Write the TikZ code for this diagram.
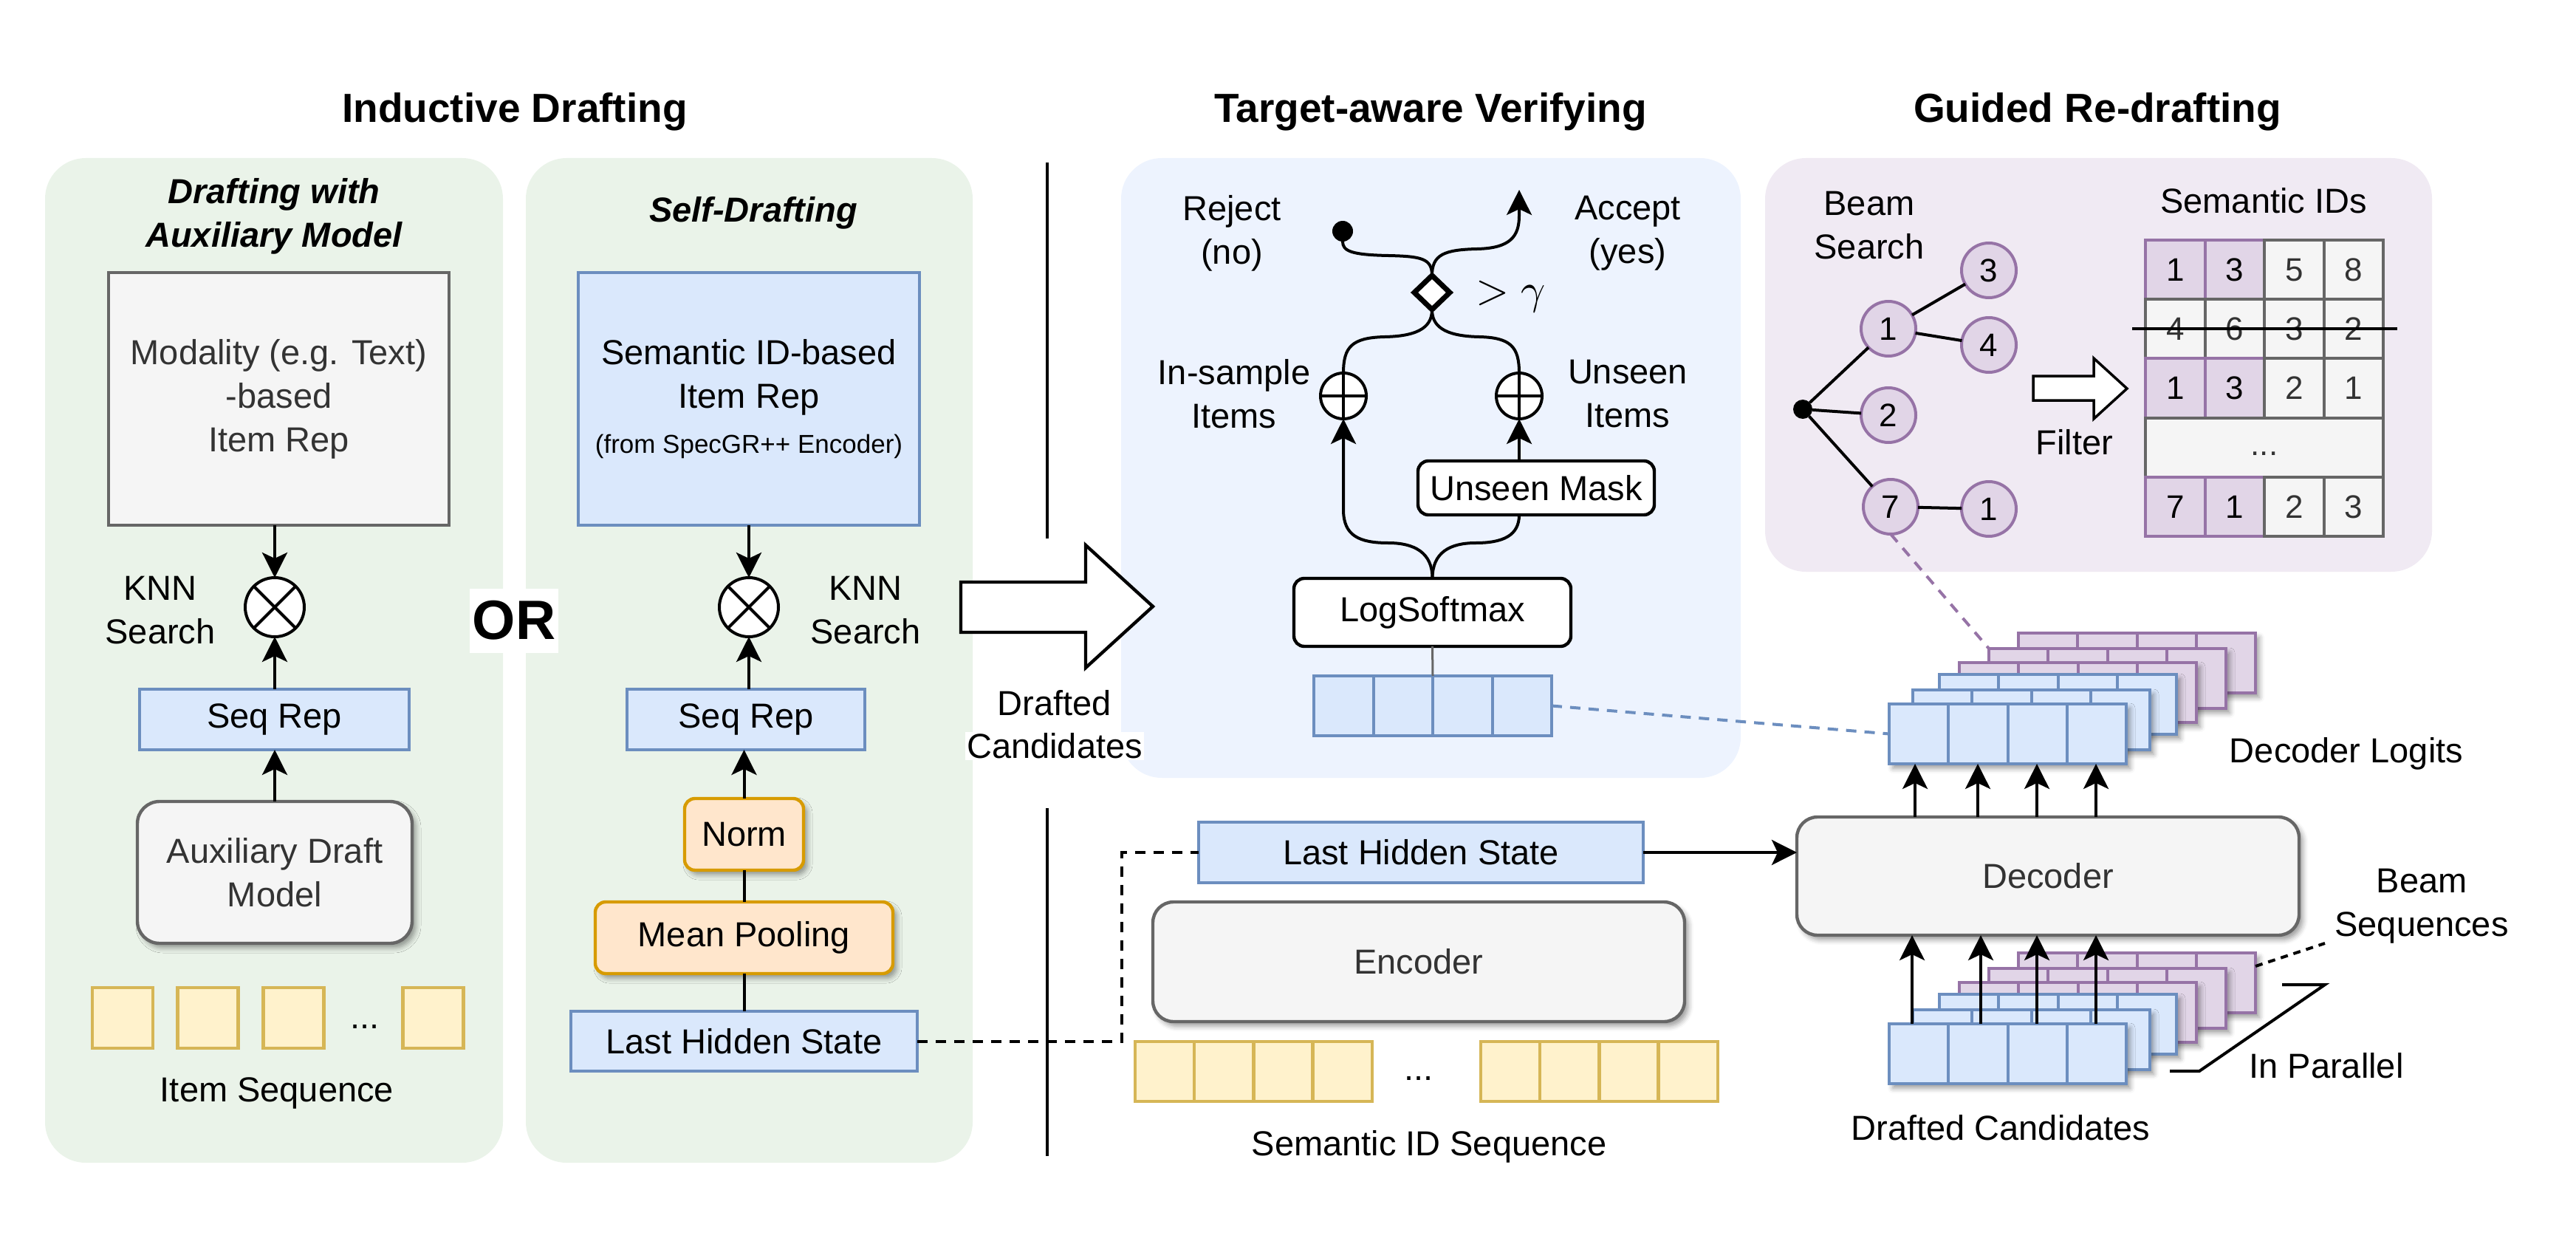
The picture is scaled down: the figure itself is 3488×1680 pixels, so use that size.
\documentclass[tikz,border=0pt]{standalone}
\usepackage{fontspec}
\setmainfont{Liberation Sans}
\usetikzlibrary{arrows.meta,shapes.geometric,shadows.blur,calc}
\definecolor{grnbg}{HTML}{EAF3E9}
\definecolor{blubg}{HTML}{EDF3FE}
\definecolor{purbg}{HTML}{F0EAF3}
\definecolor{bluefill}{HTML}{DAE8FC}
\definecolor{bluedraw}{HTML}{6C8EBF}
\definecolor{grayfill}{HTML}{F5F5F5}
\definecolor{graydraw}{HTML}{666666}
\definecolor{graytext}{HTML}{333333}
\definecolor{yelfill}{HTML}{FFF2CC}
\definecolor{yeldraw}{HTML}{D6B656}
\definecolor{orgfill}{HTML}{FFE6CC}
\definecolor{orgdraw}{HTML}{D79B00}
\definecolor{purfill}{HTML}{E1D5E7}
\definecolor{purdraw}{HTML}{9673A6}
\newcommand{\fN}{\fontsize{47pt}{59pt}\selectfont}
\newcommand{\fT}{\fontsize{55pt}{66pt}\selectfont\bfseries}
\newcommand{\fS}{\fontsize{35pt}{42pt}\selectfont}
\newcommand{\fD}{\fontsize{44pt}{52pt}\selectfont}
\newcommand{\stk}[5]{%
  \node[draw=#5, fill=#4, line width=4pt, minimum width=321pt, minimum height=81pt, anchor=north west, sh] (#1) at (#2,#3) {};
  \foreach \k in {1,2,3} \draw[#5, line width=4pt] ($(#1.north west)+(80.25*\k,0)$) -- ($(#1.south west)+(80.25*\k,0)$);
}
\newcommand{\tcell}[5]{\node[#4, font=\fD, minimum width=80.5pt, minimum height=80.2pt] (#1) at ({2945.25+80.5*#2},{365.1+80.2*#3}) {#5};}
\begin{document}
\begin{tikzpicture}[x=1pt,y=-1pt,
  every node/.style={inner sep=0pt, outer sep=0pt, font=\fN, align=center},
  ln/.style={line width=4pt},
  arr/.style={line width=4pt, -{Stealth[length=34pt,width=34pt,inset=8pt]}},
  dsh/.style={line width=4pt, dash pattern=on 14pt off 11pt},
  bbox/.style={draw=bluedraw, fill=bluefill, line width=4.4pt},
  gbox/.style={draw=graydraw, fill=grayfill, line width=4.4pt, text=graytext},
  obox/.style={draw=orgdraw, fill=orgfill, line width=4.4pt, rounded corners=14pt},
  ybox/.style={draw=yeldraw, fill=yelfill, line width=4.4pt},
  pcell/.style={draw=purdraw, fill=purfill, line width=4pt},
  gcell/.style={draw=graydraw, fill=grayfill, line width=4pt, text=graytext},
  wbox/.style={draw=black, fill=white, line width=4.4pt, rounded corners=14pt},
  sh/.style={blur shadow={shadow xshift=5pt, shadow yshift=-6pt, shadow blur radius=7pt, shadow opacity=40}},
  wh/.style 2 args={minimum width=#1pt, minimum height=#2pt},
  otimes/.style={circle, draw, fill=white, line width=4pt, minimum size=80pt,
    path picture={\draw[line width=4pt] (path picture bounding box.north west) -- (path picture bounding box.south east) (path picture bounding box.north east) -- (path picture bounding box.south west);}},
  oplus/.style={circle, draw, fill=white, line width=4pt, minimum size=62pt,
    path picture={\draw[line width=4pt] (path picture bounding box.north) -- (path picture bounding box.south) (path picture bounding box.east) -- (path picture bounding box.west);}},
  tnode/.style={circle, draw=purdraw, fill=purfill, line width=4pt, minimum size=74pt, font=\fD},
]
\useasboundingbox (0,0) rectangle (3488,1680);

% panels
\fill[grnbg, rounded corners=55pt] (61,214) rectangle (681,1574);
\fill[grnbg, rounded corners=55pt] (712,214) rectangle (1317,1574);
\fill[blubg, rounded corners=55pt] (1518,214) rectangle (2357,1053);
\fill[purbg, rounded corners=55pt] (2390,214) rectangle (3293,774);

% titles
\node[font=\fT] (t1) at (697,151) {Inductive Drafting};
\node[font=\fT] (t2) at (1937,151) {Target-aware Verifying};
\node[font=\fT] (t3) at (2840,151) {Guided Re-drafting};

% separators
\coordinate (s1a) at (1418,220); \coordinate (s1b) at (1418,729);
\coordinate (s2a) at (1418,1094); \coordinate (s2b) at (1418,1565);
\draw[ln] (s1a) -- (s1b);
\draw[ln] (s2a) -- (s2b);

% ---------- panel 1
\node[font=\fN\bfseries\itshape] (h1) at (371,293) {Drafting with\\Auxiliary Model};
\node[gbox, wh={461}{342}] (modal) at (377.5,540) {Modality (e.g. Text)\\-based\\Item Rep};
\node[otimes] (ox1) at (372,822) {};
\node (knn1) at (217,826) {KNN\\Search};
\node[bbox, wh={365}{82}] (seq1) at (371.5,974) {Seq Rep};
\node[gbox, rounded corners=30pt, wh={372}{192}, sh] (aux) at (372,1181) {Auxiliary Draft\\Model};
\foreach \i/\x in {1/166,2/281.5,3/397.5,4/586.5} \node[ybox, wh={82}{82}] (it\i) at (\x,1378) {};
\node (itdots) at (494,1390) {...};
\node (itseq) at (375,1480) {Item Sequence};
\draw[arr] (modal.south -| ox1) -- (ox1.north);
\draw[arr] (seq1.north -| ox1) -- (ox1.south);
\draw[arr] (aux.north) -- (seq1.south -| aux.north);

% ---------- panel 2
\node[font=\fN\bfseries\itshape] (h2) at (1020,288) {Self-Drafting};
\node[bbox, wh={462}{342}] (semrep) at (1014,540) {Semantic ID-based\\Item Rep\\[2pt]{\fS (from SpecGR++ Encoder)}};
\node[otimes] (ox2) at (1014,822) {};
\node (knn2) at (1172,826) {KNN\\Search};
\node[bbox, wh={322}{82}] (seq2) at (1010,974) {Seq Rep};
\node[obox, wh={161}{97}, sh] (norm) at (1007.5,1129.5) {Norm};
\node[obox, wh={403}{97}, sh] (pool) at (1007.5,1269.5) {Mean Pooling};
\node[bbox, wh={469}{81}] (lhs1) at (1007.5,1409.5) {Last Hidden State};
\draw[arr] (semrep.south -| ox2) -- (ox2.north);
\draw[arr] (seq2.north -| ox2) -- (ox2.south);
\draw[arr] (norm.north) -- (seq2.south -| norm.north);
\draw[ln] (pool.north) -- (norm.south);
\draw[ln] (lhs1.north) -- (pool.south);

% OR
\node[fill=white, font=\fontsize{75pt}{80pt}\selectfont\bfseries, wh={120}{87}] (or) at (696,840) {OR};

% big arrow
\draw[line width=4.4pt, fill=white, line join=miter] (1301,788) -- (1470,788) -- (1470,738) -- (1561,821) -- (1470,904) -- (1470,856) -- (1301,856) -- cycle;
\node[fill=white, inner sep=2pt] (dc1) at (1428,952) {Drafted};
\node[fill=white, inner sep=2pt] (dc2) at (1428,1010) {Candidates};

% ---------- verifying
\node[wbox, wh={375}{92}] (lsm) at (1939.5,829) {LogSoftmax};
\node[wbox, wh={320}{73}] (mask) at (2080,660.5) {Unseen Mask};
\node[oplus] (opL) at (1819,536) {};
\node[oplus] (opR) at (2057,536) {};
\node[diamond, draw, fill=white, line width=7pt, minimum width=48pt, minimum height=46pt] (dia) at (1939,396) {};
\node[circle, fill=black, minimum size=28pt] (dot) at (1818,313) {};
\coordinate (acc) at (2057,257);
\node (rej) at (1668,316) {Reject\\(no)};
\node (accl) at (2204,316) {Accept\\(yes)};
\node (gam) at (2046,402) {\fontsize{10pt}{12pt}\selectfont\scalebox{5.8}{$>\gamma$}};
\node (ins) at (1671,533) {In-sample\\Items};
\node (uns) at (2204,533) {Unseen\\Items};
\node[bbox, wh={322}{81}] (vec) at (1940,955.5) {};
\foreach \k in {1,2,3} \draw[bluedraw, line width=4pt] ($(vec.north west)+(80.5*\k,0)$) -- ($(vec.south west)+(80.5*\k,0)$);
\draw[graydraw, line width=3pt] (lsm.south) -- (vec.north);

\draw[arr] (lsm.north) .. controls (1939.5,748) and (1915,735) .. (1880,735) .. controls (1840,735) and (1819,725) .. (1819,690) -- (opL.south);
\draw[ln] (lsm.north) .. controls (1939.5,748) and (1963,735) .. (1998,735) .. controls (2035,735) and (2057,725) .. (mask.south -| opR);
\draw[arr] (mask.north -| opR) -- (opR.south);
\draw[ln] (opL.north) .. controls (1819,470) and (1830,457) .. (1875,456) .. controls (1925,455) and (1939,440) .. (dia.south);
\draw[ln] (opR.north) .. controls (2057,470) and (2046,457) .. (2003,456) .. controls (1953,455) and (1939,440) .. (dia.south);
\draw[ln] (dia.north) .. controls (1939,350) and (1925,347) .. (1880,346) .. controls (1830,345) and (1818,340) .. (dot.south);
\draw[arr] (dia.north) .. controls (1939,345) and (1955,338) .. (2000,337) .. controls (2045,336) and (2057,320) .. (2057,292) -- (acc);

% ---------- encoder section
\node[bbox, wh={602}{82}] (lhs2) at (1924,1154) {Last Hidden State};
\node[gbox, rounded corners=28pt, wh={720}{162}, sh] (enc) at (1921,1302) {Encoder};
\foreach \i in {0,...,3} \node[ybox, wh={80.25}{81}] (sa\i) at ({1577+80.25*\i},1450.5) {};
\foreach \i in {0,...,3} \node[ybox, wh={80.25}{81}] (sb\i) at ({2045+80.25*\i},1450.5) {};
\node (sdots) at (1921,1460) {...};
\node (sidseq) at (1935,1552) {Semantic ID Sequence};
\coordinate (jog) at (1519,1300);
\draw[dsh] (lhs1.east) -- (lhs1.east -| jog) -- (lhs2.west -| jog) -- (lhs2.west);

% ---------- decoder
\node[gbox, rounded corners=28pt, wh={680}{160}, sh] (dec) at (2773,1186) {Decoder};
\draw[arr] (lhs2.east) -- (lhs2.east -| dec.west);

\stk{lgF}{2733}{857}{purfill}{purdraw}
\stk{lgE}{2693}{878}{purfill}{purdraw}
\stk{lgD}{2653}{897}{purfill}{purdraw}
\stk{lgC}{2626}{913}{bluefill}{bluedraw}
\stk{lgB}{2590}{934}{bluefill}{bluedraw}
\stk{lgA}{2558}{953}{bluefill}{bluedraw}

\stk{dcF}{2733}{1290}{purfill}{purdraw}
\stk{dcE}{2693}{1311}{purfill}{purdraw}
\stk{dcD}{2653}{1330}{purfill}{purdraw}
\stk{dcC}{2626}{1346}{bluefill}{bluedraw}
\stk{dcB}{2590}{1367}{bluefill}{bluedraw}
\stk{dcA}{2558}{1386}{bluefill}{bluedraw}

\foreach \o in {35,120,200,280} \draw[arr] ($(dec.north -| lgA.west)+(\o,0)$) -- ($(lgA.south west)+(\o,0)$);
\foreach \o in {31,124,200,280} \draw[arr] ($(dcA.north west)+(\o,0)$) -- ($(dec.south -| dcA.west)+(\o,0)$);

\draw[bluedraw, dsh] (vec.east) -- (lgA.west);

\node (declog) at (3177,1020) {Decoder Logits};
\node (beamseq) at (3279,1227) {Beam\\Sequences};
\coordinate (bsq) at (3148,1277);
\draw[line width=4pt, dash pattern=on 10pt off 8pt] ($(dcF.north east)+(0,18)$) -- (bsq);
\draw[line width=4pt] (2938,1450) -- (2978,1450) -- (3148,1333) -- (3090,1333);
\node (inpar) at (3150,1443) {In Parallel};
\node (dcl) at (2709,1527) {Drafted Candidates};

% ---------- re-drafting
\node (beam) at (2531,305) {Beam\\Search};
\node (semids) at (3065,272) {Semantic IDs};
\node[circle, fill=black, minimum size=26pt] (root) at (2441,554) {};
\node[tnode] (n1) at (2557,445) {1};
\node[tnode] (n3) at (2693,366) {3};
\node[tnode] (n4) at (2693,467) {4};
\node[tnode] (n2) at (2557,562) {2};
\node[tnode] (n7) at (2560,686) {7};
\node[tnode] (n1b) at (2693,689) {1};
\draw[ln] (root) -- (n1);
\draw[ln] (root) -- (n2);
\draw[ln] (root) -- (n7);
\draw[ln] (n1) -- (n3);
\draw[ln] (n1) -- (n4);
\draw[ln] (n7) -- (n1b);
\draw[purdraw, dsh] (n7.south) -- (lgE.north west);

\draw[line width=3.5pt, fill=white, line join=miter] (2753,509) -- (2835,509) -- (2835,485) -- (2880,526) -- (2835,567) -- (2835,542) -- (2753,542) -- cycle;
\node (filt) at (2809,599) {Filter};

\tcell{c00}{0}{0}{pcell}{1}
\tcell{c01}{1}{0}{pcell}{3}
\tcell{c02}{2}{0}{gcell}{5}
\tcell{c03}{3}{0}{gcell}{8}
\tcell{c10}{0}{1}{gcell}{4}
\tcell{c11}{1}{1}{gcell}{6}
\tcell{c12}{2}{1}{gcell}{3}
\tcell{c13}{3}{1}{gcell}{2}
\tcell{c20}{0}{2}{pcell}{1}
\tcell{c21}{1}{2}{pcell}{3}
\tcell{c22}{2}{2}{gcell}{2}
\tcell{c23}{3}{2}{gcell}{1}
\node[gcell, font=\fD, minimum width=322pt, minimum height=80.2pt] (c3) at (3066,605.7) {\strut...};
\tcell{c40}{0}{4}{pcell}{7}
\tcell{c41}{1}{4}{pcell}{1}
\tcell{c42}{2}{4}{gcell}{2}
\tcell{c43}{3}{4}{gcell}{3}
\coordinate (stA) at (2887,445); \coordinate (stB) at (3246,445);
\draw[line width=4pt] (stA) -- (stB);
\end{tikzpicture}
\end{document}
